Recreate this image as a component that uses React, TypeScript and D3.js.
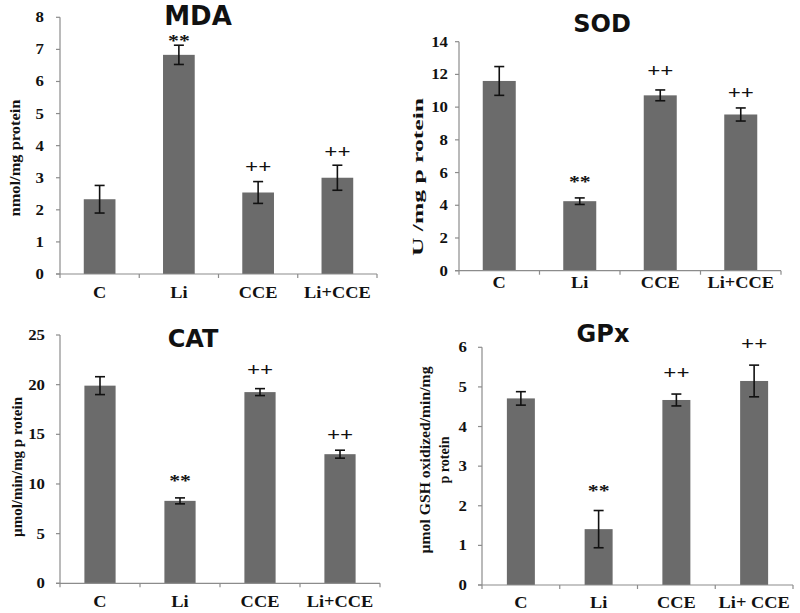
import React from "react";
import * as d3 from "d3";

const categories = ["C", "Li", "CCE", "Li+CCE"];
const gpxCategories = ["C", "Li", "CCE", "Li+ CCE"];
const marks = ["", "**", "++", "++"];

const mdaMean = [2.33, 6.83, 2.54, 3.0];
const mdaErr = [0.43, 0.3, 0.34, 0.39];
const mdaTicks = [0, 1, 2, 3, 4, 5, 6, 7, 8];

const sodMean = [11.6, 4.25, 10.72, 9.55];
const sodErr = [0.88, 0.2, 0.33, 0.4];
const sodTicks = [0, 2, 4, 6, 8, 10, 12, 14];

const catMean = [19.9, 8.3, 19.25, 13.0];
const catErr = [0.9, 0.3, 0.35, 0.4];
const catTicks = [0, 5, 10, 15, 20, 25];

const gpxMean = [4.71, 1.41, 4.67, 5.15];
const gpxErr = [0.17, 0.47, 0.15, 0.4];
const gpxTicks = [0, 1, 2, 3, 4, 5, 6];

const SERIF = "'Liberation Serif', 'Times New Roman', serif";
const SANS = "'DejaVu Sans', Verdana, sans-serif";
const BAR = "#6b6b6b";
const AXIS = "#8c8c8c";

type YLabelLine = { text: string; x: number; y: number; len: number };
type Layout = {
  x0: number; x1: number; yTop: number; yBot: number;
  title: string; titleX: number; titleY: number; titleSize: number;
  tickGap: number; xLabelGap: number; barPad: number;
  yLabel: YLabelLine[];
  markGaps: number[];
};

const panels = [
  {
    mean: mdaMean, err: mdaErr, ticks: mdaTicks, cats: categories,
    layout: {
      x0: 60, x1: 377, yTop: 17.3, yBot: 274,
      title: "MDA", titleX: 198, titleY: 25, titleSize: 26,
      tickGap: 16, xLabelGap: 24, barPad: 0.6,
      yLabel: [{ text: "nmol/mg protein", x: 20, y: 158, len: 117 }],
      markGaps: [0, 7.4, 13, 11.4],
    } as Layout,
  },
  {
    mean: sodMean, err: sodErr, ticks: sodTicks, cats: categories,
    layout: {
      x0: 459, x1: 781, yTop: 41.7, yBot: 270.7,
      title: "SOD", titleX: 602, titleY: 32, titleSize: 24,
      tickGap: 11, xLabelGap: 17.5, barPad: 0.59,
      yLabel: [{ text: "U /mg p rotein", x: 423, y: 177, len: 158 }],
      markGaps: [0, 19, 18, 14],
    } as Layout,
  },
  {
    mean: catMean, err: catErr, ticks: catTicks, cats: categories,
    layout: {
      x0: 60, x1: 380, yTop: 335, yBot: 583.3,
      title: "CAT", titleX: 193, titleY: 347, titleSize: 24,
      tickGap: 15, xLabelGap: 23.7, barPad: 0.61,
      yLabel: [{ text: "µmol/min/mg p rotein", x: 22, y: 467, len: 140 }],
      markGaps: [0, 20, 17.6, 14],
    } as Layout,
  },
  {
    mean: gpxMean, err: gpxErr, ticks: gpxTicks, cats: gpxCategories,
    layout: {
      x0: 482, x1: 793, yTop: 347.3, yBot: 585,
      title: "GPx", titleX: 603, titleY: 342, titleSize: 24,
      tickGap: 15, xLabelGap: 23, barPad: 0.64,
      yLabel: [
        { text: "µmol GSH oxidized/min/mg", x: 430, y: 460, len: 187 },
        { text: "p rotein", x: 449, y: 460, len: 47 },
      ],
      markGaps: [0, 23, 20, 20],
    } as Layout,
  },
];

function Panel({ mean, err, ticks, cats, layout }: any) {
  const L: Layout = layout;
  const maxV = ticks[ticks.length - 1];
  const y = d3.scaleLinear().domain([0, maxV]).range([L.yBot, L.yTop]);
  const x = d3
    .scaleBand<string>()
    .domain(cats)
    .range([L.x0, L.x1])
    .paddingInner(L.barPad)
    .paddingOuter(L.barPad / 2);
  const step = (L.x1 - L.x0) / cats.length;
  const bounds = d3.range(cats.length + 1).map((i) => L.x0 + i * step);

  return (
    <g>
      {/* bars */}
      {cats.map((c: string, i: number) => (
        <rect
          key={"b" + i}
          x={x(c)}
          y={y(mean[i])}
          width={x.bandwidth()}
          height={L.yBot - y(mean[i])}
          fill={BAR}
        />
      ))}
      {/* axes */}
      <line x1={L.x0} x2={L.x0} y1={L.yTop} y2={L.yBot} stroke={AXIS} strokeWidth={1.2} />
      <line x1={L.x0 - 4} x2={L.x1} y1={L.yBot} y2={L.yBot} stroke={AXIS} strokeWidth={1.2} />
      {ticks.map((t: number) => (
        <g key={"t" + t}>
          <line x1={L.x0 - 4} x2={L.x0} y1={y(t)} y2={y(t)} stroke={AXIS} strokeWidth={1.2} />
          <text
            transform={`translate(${L.x0 - L.tickGap},${y(t) + 5}) scale(1.2,1)`}
            textAnchor="end"
            fontFamily={SERIF}
            fontWeight="bold"
            fontSize={14}
            fill="#111"
          >
            {t}
          </text>
        </g>
      ))}
      {bounds.map((b: number, i: number) => (
        <line key={"bt" + i} x1={b} x2={b} y1={L.yBot} y2={L.yBot + 4} stroke={AXIS} strokeWidth={1.2} />
      ))}
      {/* x labels */}
      {cats.map((c: string, i: number) => (
        <text
          key={"xl" + i}
          transform={`translate(${(x(c) as number) + x.bandwidth() / 2},${L.yBot + L.xLabelGap}) scale(1.08,1)`}
          textAnchor="middle"
          fontFamily={SERIF}
          fontWeight="bold"
          fontSize={17}
          fill="#111"
        >
          {c}
        </text>
      ))}
      {/* error bars */}
      {cats.map((c: string, i: number) => {
        const cx = (x(c) as number) + x.bandwidth() / 2;
        const top = y(mean[i] + err[i]);
        const bot = y(mean[i] - err[i]);
        return (
          <g key={"e" + i} stroke="#111" strokeWidth={1.6}>
            <line x1={cx} x2={cx} y1={top} y2={bot} />
            <line x1={cx - 5} x2={cx + 5} y1={top} y2={top} />
            <line x1={cx - 5} x2={cx + 5} y1={bot} y2={bot} />
          </g>
        );
      })}
      {/* significance marks */}
      {cats.map((c: string, i: number) => {
        const m = marks[i];
        if (!m) return null;
        const cx = (x(c) as number) + x.bandwidth() / 2;
        const center = y(mean[i] + err[i]) - L.markGaps[i];
        const isStar = m === "**";
        const fs = isStar ? 17 : 18;
        const base = isStar ? center + 0.485 * fs : center + 0.253 * fs;
        return (
          <text
            key={"m" + i}
            transform={`translate(${cx},${base}) scale(1.28,1)`}
            textAnchor="middle"
            fontFamily={SERIF}
            fontWeight="bold"
            fontSize={fs}
            fill="#111"
          >
            {m}
          </text>
        );
      })}
      {/* title */}
      <text
        x={L.titleX}
        y={L.titleY}
        textAnchor="middle"
        fontFamily={SANS}
        fontWeight="bold"
        fontSize={L.titleSize}
        fill="#111"
      >
        {L.title}
      </text>
      {/* y label */}
      {L.yLabel.map((yl, i) => (
        <text
          key={"yl" + i}
          transform={`translate(${yl.x},${yl.y}) rotate(-90)`}
          textAnchor="middle"
          fontFamily={SERIF}
          fontWeight="bold"
          fontSize={14}
          textLength={yl.len}
          lengthAdjust="spacingAndGlyphs"
          fill="#111"
        >
          {yl.text}
        </text>
      ))}
    </g>
  );
}

export default function App() {
  return (
    <svg
      width={800}
      height={613}
      style={{ position: "absolute", left: 0, top: 0, background: "#fff" }}
    >
      <rect width={800} height={613} fill="#fff" />
      {panels.map((p, i) => (
        <Panel key={i} {...p} />
      ))}
    </svg>
  );
}
